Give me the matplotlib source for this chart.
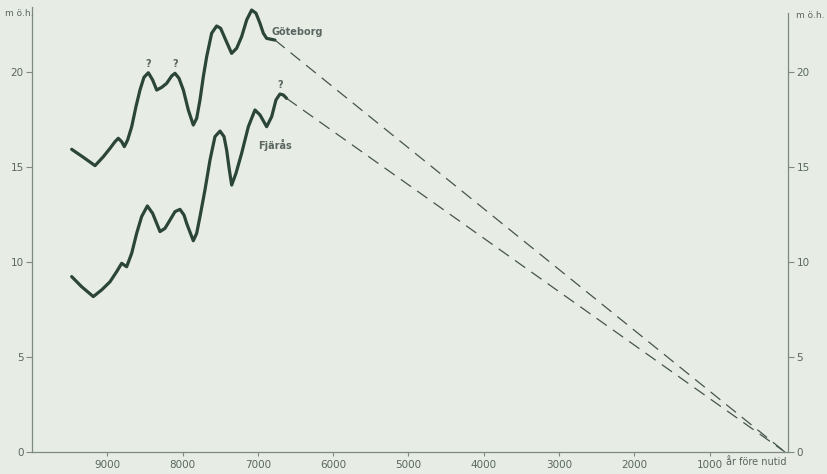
import matplotlib
matplotlib.use("Agg")
import matplotlib.pyplot as plt

# Data (years before present, metres above sea level)
gbg_years = [9473, 9318, 9163, 9053, 8964, 8898, 8854, 8809, 8774, 8730, 8676, 8619,
             8566, 8513, 8455, 8398, 8344, 8278, 8212, 8145, 8101, 8048, 7990, 7924,
             7858, 7813, 7769, 7725, 7680, 7614, 7548, 7495, 7437, 7349, 7282, 7216,
             7149, 7083, 7025, 6972, 6928, 6884, 6773]
gbg_vals = [15.93, 15.51, 15.07, 15.54, 15.98, 16.33, 16.51, 16.33, 16.07, 16.42, 17.12, 18.18,
            19.05, 19.72, 19.96, 19.58, 19.05, 19.19, 19.40, 19.79, 19.93, 19.67, 19.05, 18.00,
            17.21, 17.56, 18.53, 19.75, 20.81, 22.04, 22.42, 22.30, 21.77, 20.98, 21.25, 21.86,
            22.74, 23.26, 23.09, 22.56, 22.04, 21.77, 21.68]

fj_years = [9473, 9341, 9186, 9075, 8964, 8876, 8809, 8743, 8676, 8610, 8544, 8468,
            8398, 8300, 8234, 8167, 8101, 8035, 7981, 7946, 7858, 7813, 7769, 7703,
            7636, 7570, 7503, 7450, 7415, 7379, 7348, 7291, 7216, 7127, 7039, 6972,
            6884, 6817, 6760, 6707, 6662, 6618]
fj_vals = [9.23, 8.70, 8.18, 8.53, 8.96, 9.49, 9.93, 9.75, 10.46, 11.51, 12.39, 12.95,
           12.56, 11.60, 11.77, 12.21, 12.65, 12.77, 12.47, 12.03, 11.12, 11.51, 12.39, 13.79,
           15.37, 16.60, 16.89, 16.60, 15.89, 14.84, 14.05, 14.67, 15.72, 17.12, 18.00, 17.74,
           17.12, 17.65, 18.53, 18.84, 18.79, 18.61]

end_point = (0, 0)
question_years = [8455, 8101, 6707]
question_vals = [19.96, 19.93, 18.84]

x_ticks = [9000, 8000, 7000, 6000, 5000, 4000, 3000, 2000, 1000]
x_labels = ["9000", "8000", "7000", "6000", "5000", "4000", "3000", "2000", "1000"]
y_ticks = [0, 5, 10, 15, 20]

BG = "#e7ece5"
LINE = "#2b4538"
AXC = "#7d8a82"
TXT = "#5a6660"

fig = plt.figure(figsize=(8.27, 4.74), dpi=100, facecolor=BG)
ax = fig.add_axes([32 / 827, 22 / 474, 756 / 827, 445 / 474])
ax.set_facecolor(BG)

ax.plot(gbg_years, gbg_vals, color=LINE, lw=2.3, solid_capstyle="round", solid_joinstyle="round")
ax.plot(fj_years, fj_vals, color=LINE, lw=2.3, solid_capstyle="round", solid_joinstyle="round")

ax.plot([gbg_years[-1], end_point[0]], [gbg_vals[-1], end_point[1]],
        color="#45554d", lw=0.9, dashes=(10, 6))
ax.plot([fj_years[-1], end_point[0]], [fj_vals[-1], end_point[1]],
        color="#45554d", lw=0.9, dashes=(10, 6))

for yr, v in zip(question_years, question_vals):
    ax.annotate("?", (yr, v), xytext=(0, 3), textcoords="offset points",
                ha="center", va="bottom", fontsize=7, color=TXT, fontweight="bold")

ax.text(6813, 22.1, "Göteborg", fontsize=7, color=TXT, fontweight="bold",
        ha="left", va="center")
ax.text(6999, 16.16, "Fjärås", fontsize=7, color=TXT, fontweight="bold",
        ha="left", va="center")

ax.set_xlim(10000, -40)
ax.set_ylim(0, 23.42)

ax.spines["top"].set_visible(False)
for s in ["left", "right", "bottom"]:
    ax.spines[s].set_color(AXC)
    ax.spines[s].set_linewidth(0.9)
ax.spines["right"].set_bounds(0, 23.1)

ax.set_xticks(x_ticks)
ax.set_xticklabels(x_labels)
ax.set_yticks(y_ticks)
ax.tick_params(axis="x", direction="out", length=3, width=0.8, color=AXC,
               labelsize=7.5, labelcolor=TXT, pad=3)
ax.tick_params(axis="y", direction="out", length=4, width=0.8, color=AXC,
               labelsize=7.5, labelcolor=TXT, pad=2, right=True, labelright=True)

ax.annotate("år före nutid", (1000, 0), xycoords=ax.get_xaxis_transform(),
            xytext=(16, -10), textcoords="offset pixels",
            fontsize=7, color=TXT, ha="left", va="center")

fig.text(5 / 827, 1 - 13 / 474, "m ö.h.", fontsize=6.5, color=TXT, ha="left", va="center")
fig.text(796 / 827, 1 - 16 / 474, "m ö.h.", fontsize=6.5, color=TXT, ha="left", va="center")

fig.savefig("out.png", dpi=100, facecolor=BG)
